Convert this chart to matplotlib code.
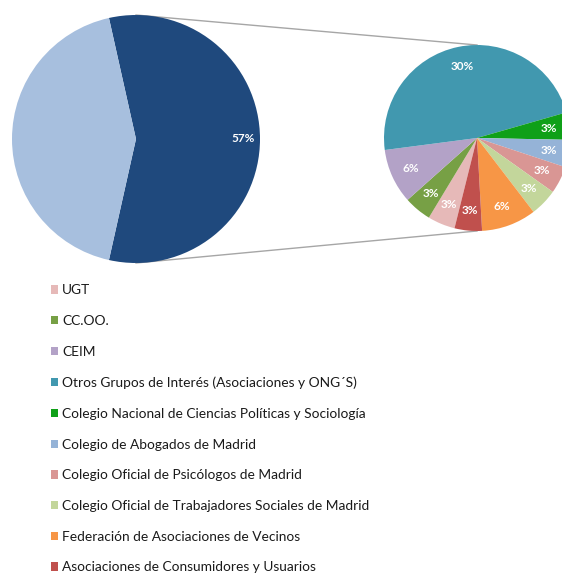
import matplotlib.pyplot as plt

plt.rcParams['font.family'] = ['Lato', 'DejaVu Sans']

# big pie: share represented by the dark slice vs. the "rest" broken out on the right
main_values = [57, 43]
main_labels = ['57%', '']
main_colors = ['#1F497D', '#A7BFDE']

# small pie (breakdown), in legend order
groups = ['UGT',
          'CC.OO.',
          'CEIM',
          'Otros Grupos de Interés (Asociaciones y ONG´S)',
          'Colegio Nacional de Ciencias Políticas y Sociología',
          'Colegio de Abogados de Madrid',
          'Colegio Oficial de Psicólogos de Madrid',
          'Colegio Oficial de Trabajadores Sociales de Madrid',
          'Federación de Asociaciones de Vecinos',
          'Asociaciones de Consumidores y Usuarios']
group_values = [3, 3, 6, 30, 3, 3, 3, 3, 6, 3]
group_colors = ['#E6B9B8', '#77A045', '#B3A2C7', '#4198AF', '#0FA018',
                '#95B3D7', '#D99694', '#C3D69B', '#F79646', '#C0504D']

W, H = 562, 574
fig = plt.figure(figsize=(W / 100, H / 100), dpi=100)
ax = fig.add_axes([0, 0, 1, 1])

big_c, big_r = (136, 435), 124
small_c, small_r = (477, 436), 93

lbl_style = dict(color='white', fontsize=8.5, fontweight='bold')

wedges, texts = ax.pie(main_values, labels=main_labels, colors=main_colors,
                       center=big_c, radius=big_r, counterclock=False,
                       startangle=main_values[0] * 3.6 / 2,
                       labeldistance=0.86, textprops=lbl_style,
                       wedgeprops=dict(linewidth=0))
for t in texts:
    t.set_ha('center')

sw, stexts = ax.pie(group_values, labels=[f'{v}%' for v in group_values],
                    colors=group_colors, center=small_c, radius=small_r,
                    counterclock=False, startangle=256,
                    labeldistance=0.78, textprops=lbl_style,
                    wedgeprops=dict(linewidth=0))
for t in stexts:
    t.set_ha('center')

# connector lines between the two pies
for s in (1, -1):
    ax.plot([big_c[0], small_c[0]], [big_c[1] + s * big_r, small_c[1] + s * small_r],
            color='#A6A6A6', lw=1, zorder=0.5)

ax.set_xlim(0, W)
ax.set_ylim(0, H)
ax.set_aspect('equal')
ax.axis('off')

fig.legend(sw, groups, loc='upper left', bbox_to_anchor=(45 / W, 1 - 279 / H),
           frameon=False, fontsize=9.9, handlelength=0.55, handleheight=0.55,
           handletextpad=0.3, labelspacing=1.36, borderaxespad=0,
           labelcolor='#1a1a1a')

fig.savefig('out.png', dpi=100)
